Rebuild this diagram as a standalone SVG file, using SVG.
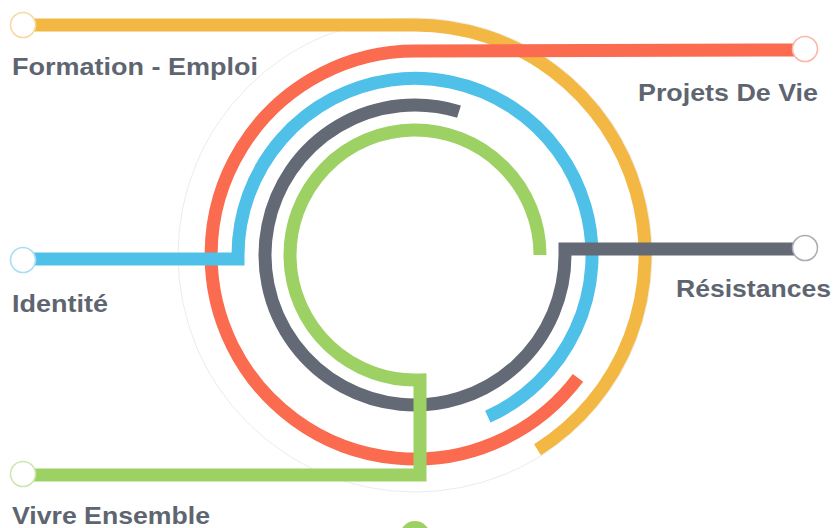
<svg xmlns="http://www.w3.org/2000/svg" width="834" height="528" viewBox="0 0 834 528">
<style>
.ln{fill:none;stroke-width:13;stroke-linecap:butt;stroke-linejoin:miter}
.lbl{font-family:"Liberation Sans",Arial,sans-serif;font-weight:bold;font-size:24px;fill:#5E6570}
.end{fill:#ffffff;stroke-width:1.6}
</style>
<rect width="834" height="528" fill="#ffffff"/>
<circle cx="415" cy="255" r="237" fill="#ffffff" stroke="#e6e6e6" stroke-width="0.8"/>
<g id="connectors">
<path id="line-formation" class="ln" stroke="#F3B843" d="M22 25 L415 25 A230 230 0 0 1 537.5 449.7"/>
<path id="line-projets" class="ln" stroke="#FA6B4F" d="M805 50 L415 51 A204 204 0 1 0 578 377.8"/>
<path id="line-identite" class="ln" stroke="#4FC1E8" d="M22 259 L238 259 L238 255 A177 177 0 1 1 487.8 416.7"/>
<path id="line-resistances" class="ln" stroke="#636A75" d="M459 111.6 A150 150 0 1 0 565 255 L565 249 L805 249"/>
<path id="line-vivre" class="ln" stroke="#9DD164" d="M540 255 A125 125 0 1 0 420 379.9 L420 475 L22 475"/>
</g>
<g id="node-formation">
<circle class="end" cx="23" cy="25" r="12.5" stroke="#F8D9A2"/>
<text class="lbl" x="12" y="75" textLength="246" lengthAdjust="spacingAndGlyphs">Formation - Emploi</text>
</g>
<g id="node-projets">
<circle class="end" cx="805" cy="49" r="12.5" stroke="#FBB7A8"/>
<text class="lbl" x="638" y="101" textLength="180" lengthAdjust="spacingAndGlyphs">Projets De Vie</text>
</g>
<g id="node-identite">
<circle class="end" cx="23" cy="260" r="12.5" stroke="#A9DFF2"/>
<text class="lbl" x="12" y="312" textLength="96" lengthAdjust="spacingAndGlyphs">Identité</text>
</g>
<g id="node-resistances">
<circle class="end" cx="805" cy="248" r="12.5" stroke="#A9ADB4"/>
<text class="lbl" x="676" y="297" textLength="155" lengthAdjust="spacingAndGlyphs">Résistances</text>
</g>
<g id="node-vivre">
<circle class="end" cx="23" cy="474" r="12.5" stroke="#CCE8B2"/>
<text class="lbl" x="12" y="524" textLength="198" lengthAdjust="spacingAndGlyphs">Vivre Ensemble</text>
</g>
<g id="node-bottom">
<circle cx="415" cy="536" r="15" fill="#9DD164"/>
</g>
</svg>
